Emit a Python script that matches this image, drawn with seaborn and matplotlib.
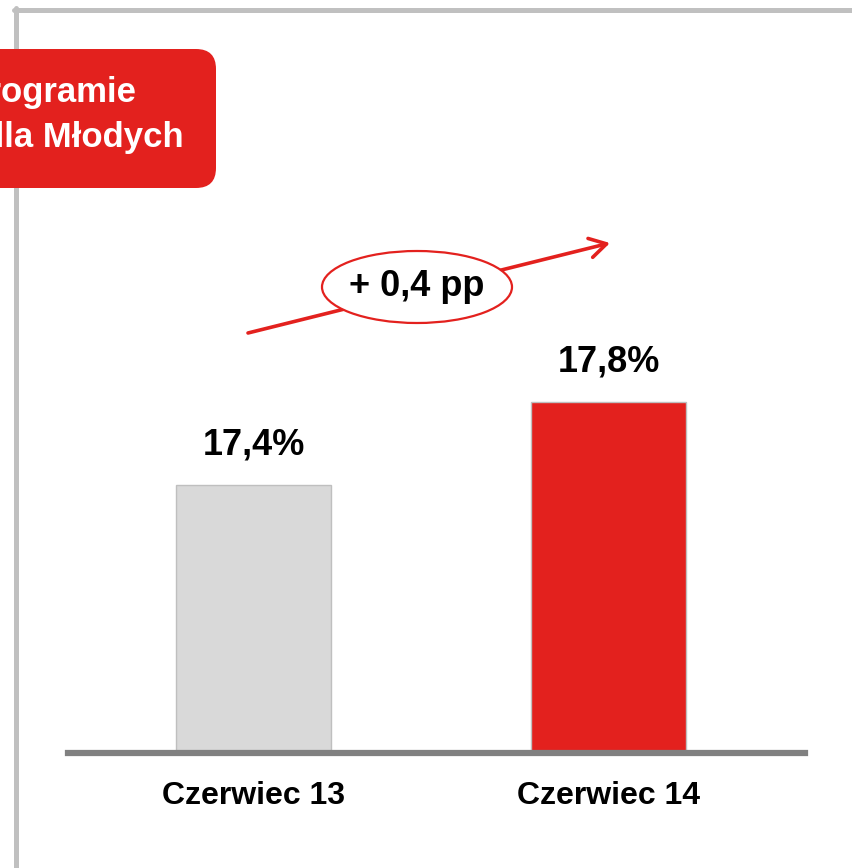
import matplotlib
matplotlib.use("Agg")
import matplotlib.pyplot as plt
from matplotlib.lines import Line2D
from matplotlib.patches import FancyBboxPatch, FancyArrowPatch, Ellipse
import seaborn as sns

# data
categories = ["Czerwiec 13", "Czerwiec 14"]
values = [17.4, 17.8]
labels = ["17,4%", "17,8%"]
bar_colors = ["#D9D9D9", "#E3211E"]
change_label = "+ 0,4 pp"
title_lines = ["W programie", "Mieszkanie dla Młodych"]

RED = "#E3211E"
W, H = 852, 868

sns.set_theme(style="white")
plt.rcParams["font.family"] = ["Liberation Sans", "DejaVu Sans"]
plt.rcParams["font.weight"] = "bold"
plt.rcParams["text.color"] = "black"
plt.rcParams["xtick.color"] = "black"

fig = plt.figure(figsize=(W / 100, H / 100), dpi=100)

# bar axes placed in pixel terms
left, right, bottom, top = 68, 805, 753, 230
ax = fig.add_axes([left / W, 1 - bottom / H, (right - left) / W, (bottom - top) / H])
sns.barplot(x=categories, y=values, hue=categories, palette=bar_colors, saturation=1,
            width=0.437, legend=False, ax=ax, edgecolor="#BFBFBF", linewidth=1)

ymin = 16.108
ax.set_ylim(ymin, ymin + (bottom - top) / 207.5)
ax.set_xlim(-0.523, 1.553)

for c, lab in zip(ax.containers, [[l] for l in labels]):
    ax.bar_label(c, labels=lab, padding=16, fontsize=26, fontweight="bold", color="black")

for s in ["top", "left", "right"]:
    ax.spines[s].set_visible(False)
ax.spines["bottom"].set_color("#808080")
ax.spines["bottom"].set_linewidth(4.5)
ax.set_yticks([])
ax.set_xlabel("")
ax.set_ylabel("")
ax.tick_params(axis="x", length=0, pad=20, labelsize=23, labelcolor="black")
for t in ax.get_xticklabels():
    t.set_fontweight("bold")
ax.set_facecolor("none")

# overlay axes in pixel coordinates
ov = fig.add_axes([0, 0, 1, 1], zorder=5)
ov.set_xlim(0, W)
ov.set_ylim(H, 0)
ov.axis("off")
ov.patch.set_visible(False)

# light frame, drawn under the title box
ov.add_line(Line2D([14, W], [10, 10], color="#C0C0C0", lw=3.6, zorder=1))
ov.add_line(Line2D([16, 16], [8, H], color="#C0C0C0", lw=3.6, zorder=1))

# red title box (cut off at the left edge, as in the source slide)
box = FancyBboxPatch((-40, 49), 256, 139, boxstyle="round,pad=0,rounding_size=20",
                     facecolor=RED, edgecolor="none", zorder=2)
ov.add_patch(box)
ov.text(136, 102, title_lines[0], color="white", fontsize=25, fontweight="bold",
        ha="right", va="baseline", zorder=3)
ov.text(184, 147, title_lines[1], color="white", fontsize=25, fontweight="bold",
        ha="right", va="baseline", zorder=3)

# trend arrow with ellipse label
arrow = FancyArrowPatch((248, 333), (610, 243), arrowstyle="->,head_length=12,head_width=7",
                        color=RED, lw=2.6, mutation_scale=1, shrinkA=0, shrinkB=0, zorder=2)
ov.add_patch(arrow)
ov.add_patch(Ellipse((417, 287), 190, 72, facecolor="white", edgecolor=RED, lw=1.6, zorder=3))
ov.text(417, 287, change_label, fontsize=26, fontweight="bold", ha="center", va="center",
        color="black", zorder=4)

fig.savefig("out.png", dpi=100)
